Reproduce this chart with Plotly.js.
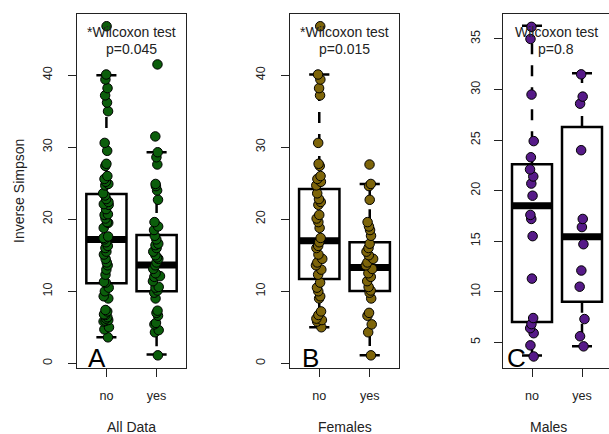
<!DOCTYPE html>
<html><head><meta charset="utf-8">
<script src="https://cdn.plot.ly/plotly-3.0.1.min.js"></script>
<style>html,body{margin:0;padding:0;overflow:hidden;background:#fff}#chart{width:620px;height:434px}</style>
</head><body><div id="chart"></div>
<script>
// ---------------- data ----------------
const categories = ['no', 'yes'];
const panelTitles = ['All Data', 'Females', 'Males'];
const panelLetters = ['A', 'B', 'C'];
const testLabels = ['*Wilcoxon test', '*Wilcoxon test', 'Wilcoxon test'];
const pValues = ['p=0.045', 'p=0.015', 'p=0.8'];
const yTitle = 'Inverse Simpson';

const allNo = [46.8, 40.1, 39.4, 38.2, 37.2, 36.2, 35.0, 30.6, 29.5, 27.7, 27.4, 26.0, 25.6, 25.2, 24.9, 24.7, 23.6, 23.3, 22.8, 22.4, 22.1, 22.0, 21.4, 20.7, 20.6, 20.1, 19.6, 19.5, 18.8, 17.6, 17.4, 17.2, 16.8, 16.3, 16.0, 15.5, 15.1, 14.5, 14.0, 13.6, 13.0, 12.3, 11.3, 11.2, 10.5, 10.0, 9.3, 9.0, 7.4, 7.2, 6.8, 6.7, 6.4, 6.2, 6.0, 5.9, 5.8, 5.0, 4.7, 3.6];
const allYes = [41.5, 31.5, 29.3, 28.6, 27.6, 24.9, 24.6, 24.0, 22.7, 19.6, 19.0, 18.5, 17.7, 17.2, 16.6, 16.4, 16.0, 15.5, 15.0, 14.7, 14.5, 14.0, 13.6, 13.1, 12.5, 12.1, 12.0, 11.4, 10.6, 10.5, 10.1, 9.8, 9.0, 7.3, 7.0, 6.6, 5.6, 5.4, 4.6, 4.3, 1.1];
const femNo = [46.8, 40.1, 39.4, 38.2, 37.2, 30.6, 27.7, 27.4, 26.0, 25.6, 25.2, 24.7, 23.6, 22.8, 22.4, 22.0, 20.6, 20.1, 19.6, 18.8, 17.4, 16.8, 16.3, 16.0, 15.1, 14.5, 14.0, 13.6, 13.0, 12.3, 11.2, 10.5, 10.0, 9.3, 9.0, 7.2, 6.7, 6.2, 6.0, 5.8, 5.0];
const femYes = [27.6, 24.9, 24.6, 22.7, 19.6, 19.0, 18.5, 17.7, 16.6, 16.0, 15.5, 15.0, 14.5, 14.0, 13.6, 13.1, 12.5, 12.0, 11.4, 10.6, 10.1, 9.8, 9.0, 7.0, 6.6, 5.4, 4.3, 1.1];
const maleNo = [36.2, 35.0, 29.5, 24.9, 23.3, 22.1, 21.4, 20.7, 19.5, 17.6, 17.2, 15.5, 11.3, 7.4, 6.8, 6.4, 5.9, 4.7, 3.6];
const maleYes = [31.5, 29.3, 28.6, 24.0, 17.2, 16.4, 14.7, 12.1, 10.5, 7.3, 5.6, 4.6];

// box statistics: [lower whisker, Q1, median, Q3, upper whisker]
const allNoStats = [3.6, 11.1, 17.2, 23.5, 40.0];
const allYesStats = [1.2, 10.0, 13.65, 17.8, 29.3];
const femNoStats = [5.0, 11.7, 17.0, 24.2, 40.1];
const femYesStats = [1.1, 10.05, 13.3, 16.8, 24.9];
const maleNoStats = [3.7, 7.0, 18.5, 22.6, 36.3];
const maleYesStats = [4.6, 9.0, 15.45, 26.3, 31.6];

const yTicksAll = [0, 10, 20, 30, 40];
const yTicksFem = [0, 10, 20, 30, 40];
const yTicksMale = [5, 10, 15, 20, 25, 30, 35];

// ---------------- layout / style ----------------
const W = 620, H = 434;
const FONT = 'Liberation Sans, Arial, Helvetica, sans-serif';
const frameTop = 14, frameBot = 368.3;
const panels = [
  {l: 77.3, r: 185.7, yr: [-0.7, 48.5], ticks: yTicksAll, groups: [allNo, allYes], stats: [allNoStats, allYesStats], color: '#0b5e0b', letterX: 97, titleX: 131.5, testX: 131, ystand: 11, jit: 0.2},
  {l: 290, r: 399, yr: [-0.7, 48.5], ticks: yTicksFem, groups: [femNo, femYes], stats: [femNoStats, femYesStats], color: '#7e650a', letterX: 310, titleX: 344.5, testX: 344, ystand: 11, jit: 0.2},
  {l: 503, r: 611, yr: [2.43, 37.47], ticks: yTicksMale, groups: [maleNo, maleYes], stats: [maleNoStats, maleYesStats], color: '#561a88', letterX: 516.5, titleX: 548.7, testX: 556, ystand: 9, jit: 0.16}
];
const BOX_HALF = 0.4, CAP_HALF = 0.2;
const px = v => v / W;
const py = v => 1 - v / H;

const traces = [];
const shapes = [];
const annotations = [];
const layout = {
  width: W, height: H,
  margin: {l: 0, r: 0, t: 0, b: 0},
  paper_bgcolor: '#fff', plot_bgcolor: '#fff',
  showlegend: false,
  font: {family: FONT, color: '#222'}
};

panels.forEach((p, k) => {
  const sfx = k === 0 ? '' : String(k + 1);
  const xref = 'x' + sfx, yref = 'y' + sfx;
  layout['xaxis' + sfx] = {
    domain: [px(p.l), px(p.r)], anchor: yref, range: [0.42, 2.58],
    tickmode: 'array', tickvals: [1, 2], ticktext: categories,
    ticks: 'outside', ticklen: 8, tickwidth: 1, tickcolor: '#222', ticklabelstandoff: 8,
    showline: true, mirror: true, linecolor: '#222', linewidth: 1,
    showgrid: false, zeroline: false, fixedrange: true,
    tickfont: {family: FONT, size: 12.6, color: '#222'}
  };
  layout['yaxis' + sfx] = {
    domain: [py(frameBot), py(frameTop)], anchor: xref, range: p.yr,
    tickmode: 'array', tickvals: p.ticks, ticktext: p.ticks.map(String), tickangle: -90,
    ticks: 'outside', ticklen: 8, tickwidth: 1, tickcolor: '#222', ticklabelstandoff: p.ystand,
    showline: true, mirror: true, linecolor: '#222', linewidth: 1,
    showgrid: false, zeroline: false, fixedrange: true,
    tickfont: {family: FONT, size: 12.6, color: '#222'}
  };

  p.stats.forEach((s, i) => {
    const pos = i + 1;
    const [lo, q1, med, q3, hi] = s;
    const base = {xref: xref, yref: yref, layer: 'below'};
    const ln = {color: '#000', width: 2.5};
    shapes.push({...base, type: 'rect', x0: pos - BOX_HALF, x1: pos + BOX_HALF, y0: q1, y1: q3, line: ln, fillcolor: 'rgba(0,0,0,0)'});
    shapes.push({...base, type: 'line', x0: pos, x1: pos, y0: q3, y1: hi, line: {...ln, dash: '11px,11px'}});
    shapes.push({...base, type: 'line', x0: pos, x1: pos, y0: q1, y1: lo, line: {...ln, dash: '11px,11px'}});
    shapes.push({...base, type: 'line', x0: pos - CAP_HALF, x1: pos + CAP_HALF, y0: hi, y1: hi, line: ln});
    shapes.push({...base, type: 'line', x0: pos - CAP_HALF, x1: pos + CAP_HALF, y0: lo, y1: lo, line: ln});
    shapes.push({...base, type: 'line', x0: pos - BOX_HALF, x1: pos + BOX_HALF, y0: med, y1: med, line: {color: '#000', width: 7}});
  });

  p.groups.forEach((vals, i) => {
    const pos = i + 1;
    traces.push({
      type: 'box', xaxis: xref, yaxis: yref,
      x: vals.map(() => pos), y: vals, name: panelTitles[k] + ' ' + categories[i],
      boxpoints: 'all', jitter: p.jit, pointpos: 0, width: 2 * BOX_HALF,
      line: {color: 'rgba(0,0,0,0)', width: 0}, fillcolor: 'rgba(0,0,0,0)',
      marker: {color: p.color, size: 9.5, line: {color: '#000', width: 1}},
      hoverinfo: 'y', showlegend: false
    });
  });

  annotations.push({xref: 'paper', yref: 'paper', x: px(p.titleX), y: py(427), text: panelTitles[k], showarrow: false, xanchor: 'center', yanchor: 'middle', font: {family: FONT, size: 14, color: '#222'}});
  annotations.push({xref: 'paper', yref: 'paper', x: px(p.letterX), y: py(358), text: panelLetters[k], showarrow: false, xanchor: 'center', yanchor: 'middle', font: {family: FONT, size: 26, color: '#000'}});
  annotations.push({xref: 'paper', yref: 'paper', x: px(p.testX), y: py(32), text: testLabels[k], showarrow: false, xanchor: 'center', yanchor: 'middle', font: {family: FONT, size: 14, color: '#222'}});
  annotations.push({xref: 'paper', yref: 'paper', x: px(p.testX), y: py(48.5), text: pValues[k], showarrow: false, xanchor: 'center', yanchor: 'middle', font: {family: FONT, size: 14, color: '#222'}});
});

annotations.push({xref: 'paper', yref: 'paper', x: px(19), y: py(191), text: yTitle, textangle: -90, showarrow: false, xanchor: 'center', yanchor: 'middle', font: {family: FONT, size: 14, color: '#222'}});

layout.shapes = shapes;
layout.annotations = annotations;

Plotly.newPlot('chart', traces, layout, {staticPlot: true, displayModeBar: false});
</script>
</body></html>
